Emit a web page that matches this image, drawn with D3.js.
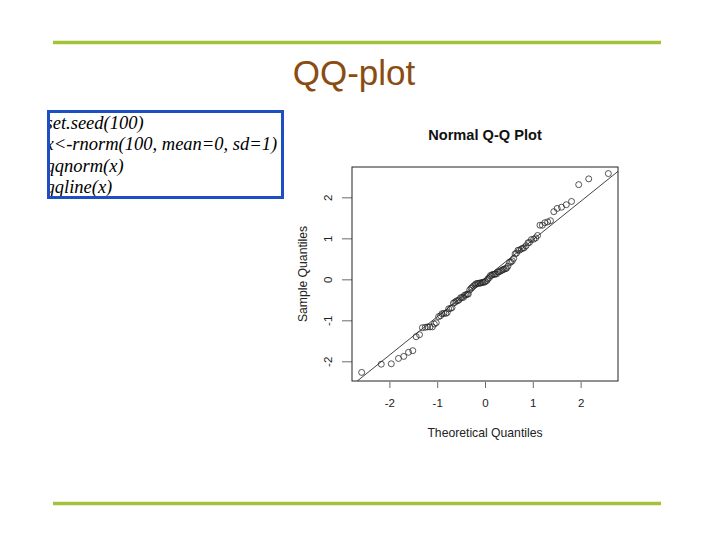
<!DOCTYPE html>
<html>
<head>
<meta charset="utf-8">
<script src="https://cdn.jsdelivr.net/npm/d3@7"></script>
<style>
  body { margin: 0; background: #fff; }
  svg { display: block; }
</style>
</head>
<body>
<script>
// sorted sample values
var sampleQuantiles = [
  -2.27,-2.07,-2.06,-1.93,-1.88,-1.78,-1.74,-1.40,-1.35,-1.18,
  -1.17,-1.16,-1.16,-1.16,-1.09,-1.06,-0.91,-0.89,-0.84,-0.83,
  -0.83,-0.81,-0.72,-0.71,-0.69,-0.58,-0.56,-0.53,-0.52,-0.50,
  -0.45,-0.44,-0.44,-0.39,-0.38,-0.36,-0.36,-0.26,-0.22,-0.20,
  -0.16,-0.14,-0.11,-0.10,-0.10,-0.09,-0.09,-0.08,-0.07,-0.07,
  -0.05,-0.03, 0.01, 0.04, 0.09, 0.10, 0.12, 0.12, 0.13, 0.13,
   0.18, 0.18, 0.20, 0.22, 0.23, 0.25, 0.26, 0.27, 0.32, 0.41,
   0.42, 0.45, 0.51, 0.62, 0.64, 0.71, 0.71, 0.74, 0.76, 0.77,
   0.82, 0.89, 0.90, 0.97, 0.98, 1.01, 1.07, 1.32, 1.32, 1.38,
   1.40, 1.43, 1.65, 1.73, 1.76, 1.82, 1.90, 2.31, 2.45, 2.58
];
// matching theoretical normal quantiles for n = 100
var theoreticalQuantiles = [
  -2.58,-2.17,-1.96,-1.81,-1.70,-1.60,-1.51,-1.44,-1.37,-1.31,
  -1.25,-1.20,-1.15,-1.10,-1.06,-1.02,-0.97,-0.93,-0.90,-0.86,
  -0.82,-0.79,-0.76,-0.72,-0.69,-0.66,-0.63,-0.60,-0.57,-0.54,
  -0.51,-0.48,-0.45,-0.43,-0.40,-0.37,-0.35,-0.32,-0.29,-0.27,
  -0.24,-0.21,-0.19,-0.16,-0.14,-0.11,-0.09,-0.06,-0.04,-0.01,
   0.01, 0.04, 0.06, 0.09, 0.11, 0.14, 0.16, 0.19, 0.21, 0.24,
   0.27, 0.29, 0.32, 0.35, 0.37, 0.40, 0.43, 0.45, 0.48, 0.51,
   0.54, 0.57, 0.60, 0.63, 0.66, 0.69, 0.72, 0.76, 0.79, 0.82,
   0.86, 0.90, 0.93, 0.97, 1.02, 1.06, 1.10, 1.15, 1.20, 1.25,
   1.31, 1.37, 1.44, 1.51, 1.60, 1.70, 1.81, 1.96, 2.17, 2.58
];
var xTicks = [-2, -1, 0, 1, 2];
var yTicks = [-2, -1, 0, 1, 2];
var codeLines = [
  "set.seed(100)",
  "x<-rnorm(100, mean=0, sd=1)",
  "qqnorm(x)",
  "qqline(x)"
];

var w = 720, h = 540;
var svg = d3.select("body").append("svg")
    .attr("width", w)
    .attr("height", h);

/* slide frame: green rules and title */
svg.selectAll(".rule")
    .data([42.5, 503.5])
    .enter().append("line")
    .attr("x1", 53).attr("x2", 661)
    .attr("y1", function(d) { return d; })
    .attr("y2", function(d) { return d; })
    .attr("stroke", "#a2c23c")
    .attr("stroke-width", 3.5);

svg.append("text")
    .attr("x", 354).attr("y", 85)
    .attr("text-anchor", "middle")
    .attr("font-family", "Liberation Sans, Arial, sans-serif")
    .attr("font-size", 35)
    .attr("fill", "#8b4c12")
    .text("QQ-plot");

/* code box */
svg.append("defs").append("clipPath").attr("id", "codeclip")
    .append("rect").attr("x", 47).attr("y", 110).attr("width", 237).attr("height", 89);

svg.append("g").attr("clip-path", "url(#codeclip)")
  .selectAll("text")
    .data(codeLines)
    .enter().append("text")
    .attr("x", 45.5)
    .attr("y", function(d, i) { return 128.5 + i * 21.5; })
    .attr("font-family", "Liberation Serif, Times New Roman, serif")
    .attr("font-style", "italic")
    .attr("font-size", 18.5)
    .attr("fill", "#000")
    .text(function(d) { return d; });

svg.append("rect")
    .attr("x", 48.5).attr("y", 111.5)
    .attr("width", 234).attr("height", 86)
    .attr("fill", "none")
    .attr("stroke", "#1d4fc2")
    .attr("stroke-width", 3);

/* the R style Q-Q plot */
var box = {left: 352, right: 618, top: 167, bottom: 381};
var x = d3.scaleLinear().domain([-2.782, 2.782]).range([box.left, box.right]);
var y = d3.scaleLinear().domain([-2.48, 2.74]).range([box.bottom, box.top]);
var fmt = function(d) { return String(d); };   // plain hyphen minus, like R

var plot = svg.append("g")
    .attr("font-family", "Liberation Sans, Arial, sans-serif")
    .attr("fill", "#111");

plot.append("text")
    .attr("x", (box.left + box.right) / 2).attr("y", 140)
    .attr("text-anchor", "middle")
    .attr("font-weight", "bold")
    .attr("font-size", 14.6)
    .text("Normal Q-Q Plot");

var xAxis = plot.append("g")
    .attr("transform", "translate(0," + (box.bottom + 1) + ")")
    .call(d3.axisBottom(x).tickValues(xTicks).tickSize(6).tickPadding(11).tickFormat(fmt));
var yAxis = plot.append("g")
    .attr("transform", "translate(" + box.left + ",0)")
    .call(d3.axisLeft(y).tickValues(yTicks).tickSize(10).tickPadding(5).tickFormat(fmt));

[xAxis, yAxis].forEach(function(a) {
  a.select(".domain").remove();
  a.selectAll(".tick line").attr("stroke", "#444").attr("stroke-width", 0.8);
  a.selectAll(".tick text")
    .attr("font-family", "Liberation Sans, Arial, sans-serif")
    .attr("font-size", 11.5)
    .attr("fill", "#222");
});
// R draws y labels parallel to the axis
yAxis.selectAll(".tick text")
    .attr("x", null)
    .attr("y", 0)
    .attr("text-anchor", "middle")
    .attr("transform", "translate(-24,0) rotate(-90)")
    .attr("dy", "0.36em");

plot.append("text")
    .attr("x", (box.left + box.right) / 2).attr("y", 437)
    .attr("text-anchor", "middle")
    .attr("font-size", 12.2)
    .attr("fill", "#222")
    .text("Theoretical Quantiles");

plot.append("text")
    .attr("transform", "translate(307," + (box.top + box.bottom) / 2 + ") rotate(-90)")
    .attr("text-anchor", "middle")
    .attr("font-size", 12.2)
    .attr("fill", "#222")
    .text("Sample Quantiles");

plot.append("rect")
    .attr("x", box.left).attr("y", box.top)
    .attr("width", box.right - box.left).attr("height", box.bottom - box.top)
    .attr("fill", "none")
    .attr("stroke", "#222")
    .attr("stroke-width", 1);

/* qqline through the quartiles */
var q1 = d3.quantile(sampleQuantiles, 0.25),
    q3 = d3.quantile(sampleQuantiles, 0.75),
    t1 = -0.6745, t3 = 0.6745;
var slope = (q3 - q1) / (t3 - t1),
    intercept = q1 - slope * t1;

svg.append("defs").append("clipPath").attr("id", "plotclip")
    .append("rect").attr("x", box.left).attr("y", box.top)
    .attr("width", box.right - box.left).attr("height", box.bottom - box.top);

plot.append("line")
    .attr("clip-path", "url(#plotclip)")
    .attr("x1", x(-3)).attr("y1", y(intercept + slope * -3))
    .attr("x2", x(3)).attr("y2", y(intercept + slope * 3))
    .attr("stroke", "#111")
    .attr("stroke-width", 0.8);

plot.selectAll(".pt")
    .data(sampleQuantiles)
    .enter().append("circle")
    .attr("cx", function(d, i) { return x(theoreticalQuantiles[i]); })
    .attr("cy", function(d) { return y(d); })
    .attr("r", 3)
    .attr("fill", "none")
    .attr("stroke", "#222")
    .attr("stroke-width", 0.75);
</script>
</body>
</html>
